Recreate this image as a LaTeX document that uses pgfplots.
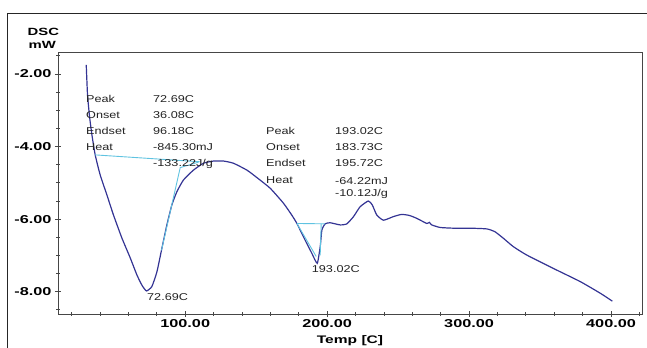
\documentclass[border=0pt]{standalone}
\usepackage{fontspec}
\setmainfont{Liberation Sans}
\newfontfamily\annfont[FakeStretch=1.27]{Liberation Sans}
\newfontfamily\tickfont[FakeStretch=1.42]{Liberation Sans}
\usepackage{pgfplots}
\pgfplotsset{compat=1.18}
\definecolor{curveblue}{RGB}{52,52,148}
\definecolor{basecyan}{RGB}{95,195,225}
\definecolor{axgray}{RGB}{70,70,70}
\definecolor{txtgray}{RGB}{35,35,35}
\begin{document}
\begin{tikzpicture}
\useasboundingbox (0,0) rectangle (647bp,348bp);
\draw[line width=1bp, black!85] (7bp,0) -- (7bp,334bp) -- (647bp,334bp);
\begin{axis}[
  at={(58bp,34bp)}, anchor=south west,
  scale only axis, width=584bp, height=262bp,
  xmin=10.4, xmax=421.8, ymin=-8.615, ymax=-1.394,
  axis line style={axgray, line width=0.9bp},
  xtick={100,200,300,400}, xticklabels={100.00,200.00,300.00,400.00},
  ytick={-8,-6,-4,-2}, yticklabels={-8.00,-6.00,-4.00,-2.00},
  minor xtick={20,40,...,420}, minor ytick={-8.5,-8,...,-1.5},
  tick pos=left, tick align=center,
  major tick length=6bp, minor tick length=3bp,
  every tick/.style={axgray, line width=0.8bp},
  ticklabel style={font=\tickfont\bfseries\fontsize{11.5}{12}\selectfont, text=black},
  xticklabel style={yshift=1bp},
  xlabel={Temp [C]},
  xlabel style={font=\tickfont\bfseries\fontsize{11}{12}\selectfont, yshift=-1bp},
  clip=false,
]
\addplot[curveblue, line width=1.2bp, smooth, tension=0.3] coordinates {
(30.3,-1.75) (31.2,-2.58) (32.7,-3.20) (34.3,-3.68) (36.6,-4.23) (40.1,-4.78) (44.9,-5.34)
(49.5,-5.89) (55.4,-6.52) (61.3,-7.07) (66.0,-7.54) (69.5,-7.82) (72.69,-7.98)
(76.5,-7.86) (80.1,-7.45) (83.6,-6.80) (87.1,-6.16) (90.6,-5.61) (94.2,-5.24)
(98.8,-4.92) (105.8,-4.65) (112.9,-4.46) (119.9,-4.40) (127.0,-4.40) (134.0,-4.46)
(143.5,-4.65) (151.0,-4.87) (159.9,-5.15) (169.2,-5.56) (175.1,-5.89) (178.7,-6.12)
(184.5,-6.58) (189.2,-6.94) (193.02,-7.22) (195.1,-6.76) (196.3,-6.30) (198.6,-6.13)
(202.1,-6.10) (209.2,-6.16) (213.9,-6.13) (218.6,-5.93) (223.2,-5.66) (229.0,-5.50)
(231.8,-5.61) (235.0,-5.89) (239.7,-6.03) (246.7,-5.93) (252.5,-5.87) (258.0,-5.90)
(263.2,-5.98) (270.2,-6.12) (272.0,-6.09) (273.7,-6.16) (279.6,-6.23) (288.9,-6.25)
(300.7,-6.25) (312.5,-6.27) (318.3,-6.35) (324.2,-6.53) (331.2,-6.76) (340.6,-6.99)
(359.4,-7.36) (378.2,-7.72) (392.3,-8.04) (400.9,-8.26)
};
\addplot[basecyan, line width=0.9bp] coordinates {(36.6,-4.23) (110.6,-4.42)};
\addplot[basecyan, line width=0.9bp] coordinates {(83.3,-6.86) (96.5,-4.58) (109.4,-4.43)};
\addplot[basecyan, line width=0.9bp] coordinates {(178.7,-6.12) (198.6,-6.13)};
\addplot[basecyan, line width=0.9bp] coordinates {(178.7,-6.12) (192.3,-7.03)};
\addplot[basecyan, line width=0.9bp] coordinates {(195.8,-6.13) (195.1,-7.0)};
\end{axis}
\begin{scope}[every node/.style={anchor=west, inner sep=0pt, text height=7bp, text depth=0pt, text=txtgray, font=\annfont\fontsize{10}{11}\selectfont}]
\node at (86bp,249bp) {Peak};
\node at (86bp,232.5bp) {Onset};
\node at (86bp,216.5bp) {Endset};
\node at (86bp,201bp) {Heat};
\node at (153bp,249bp) {72.69C};
\node at (153bp,232.5bp) {36.08C};
\node at (153bp,216.5bp) {96.18C};
\node at (153bp,201bp) {-845.30mJ};
\node at (153bp,185bp) {-133.22J/g};
\node at (266bp,216.5bp) {Peak};
\node at (266bp,201bp) {Onset};
\node at (266bp,184.5bp) {Endset};
\node at (266bp,168bp) {Heat};
\node at (335bp,216.5bp) {193.02C};
\node at (335bp,201bp) {183.73C};
\node at (335bp,184.5bp) {195.72C};
\node at (335bp,167.3bp) {-64.22mJ};
\node at (335bp,154.7bp) {-10.12J/g};
\node at (147bp,51.3bp) {72.69C};
\node at (311.7bp,78.7bp) {193.02C};
\end{scope}
\node[font=\tickfont\bfseries\fontsize{10.5}{11}\selectfont, inner sep=0pt, text height=7.5bp, text depth=0pt] at (43.3bp,316.3bp) {DSC};
\node[font=\tickfont\bfseries\fontsize{10.5}{11}\selectfont, inner sep=0pt, text height=7.5bp, text depth=0pt] at (42.3bp,303bp) {mW};
\end{tikzpicture}
\end{document}
